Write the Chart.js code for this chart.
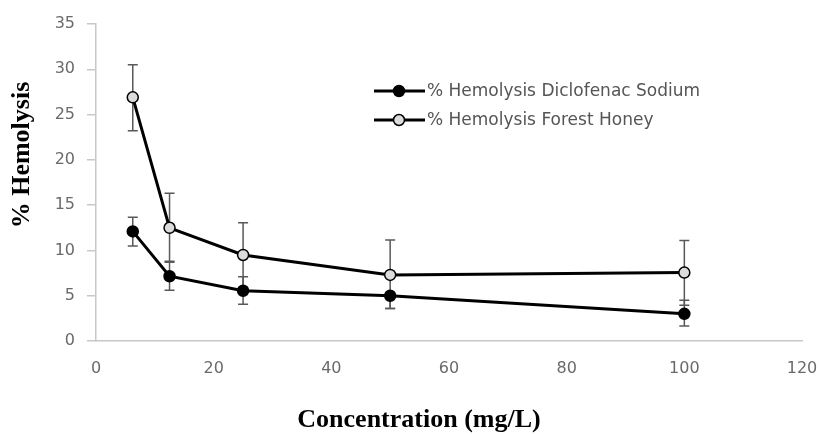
<!DOCTYPE html>
<html><head><meta charset="utf-8">
<script src="https://cdn.jsdelivr.net/npm/chart.js@4"></script>
<style>html,body{margin:0;padding:0;background:#fff}#wrap{width:819px;height:434px;position:relative}</style>
</head><body><div id="wrap"><canvas id="c" width="819" height="434"></canvas></div>
<script>
const concentrations = [6.25, 12.5, 25, 50, 100];
const diclofenac = [12.1, 7.15, 5.55, 5.0, 3.0];
const diclofenacErrUp = [1.55, 1.65, 1.55, 0, 1.5];
const diclofenacErrDown = [1.6, 1.55, 1.5, 1.4, 1.35];
const honey = [26.9, 12.5, 9.5, 7.3, 7.55];
const honeyErrUp = [3.6, 3.8, 3.55, 3.85, 3.55];
const honeyErrDown = [3.7, 3.8, 3.6, 3.7, 3.6];
const seriesNames = ['% Hemolysis Diclofenac Sodium', '% Hemolysis Forest Honey'];
const xTicksMin = 0, xTicksMax = 120, xTickStep = 20;
const yTicksMin = 0, yTicksMax = 35, yTickStep = 5;
const xTitle = 'Concentration (mg/L)';
const yTitle = '% Hemolysis';

const errorBars = [
  {up: diclofenacErrUp, down: diclofenacErrDown},
  {up: honeyErrUp, down: honeyErrDown}
];

const errorBarPlugin = {
  id: 'errorBars',
  beforeDatasetsDraw(chart) {
    const ctx = chart.ctx;
    const xs = chart.scales.x, ys = chart.scales.y;
    ctx.save();
    ctx.strokeStyle = '#595959';
    ctx.lineWidth = 1.5;
    chart.data.datasets.forEach((ds, di) => {
      const eb = errorBars[di];
      ds.data.forEach((p, i) => {
        const x = xs.getPixelForValue(p.x);
        const yc = ys.getPixelForValue(p.y);
        const segs = [];
        if (eb.up[i] > 0) segs.push(ys.getPixelForValue(p.y + eb.up[i]));
        if (eb.down[i] > 0) segs.push(ys.getPixelForValue(p.y - eb.down[i]));
        segs.forEach(ye => {
          ctx.beginPath();
          ctx.moveTo(x, yc); ctx.lineTo(x, ye);
          ctx.moveTo(x - 5, ye); ctx.lineTo(x + 5, ye);
          ctx.stroke();
        });
      });
    });
    ctx.restore();
  }
};

const annotationsPlugin = {
  id: 'annotations',
  afterDraw(chart) {
    const ctx = chart.ctx;
    ctx.save();
    ctx.fillStyle = '#000';
    ctx.font = 'bold 26px "Liberation Serif", "Times New Roman", serif';
    ctx.textAlign = 'center';
    ctx.textBaseline = 'middle';
    ctx.fillText(xTitle, 419, 420);
    ctx.translate(22, 155);
    ctx.rotate(-Math.PI / 2);
    ctx.fillText(yTitle, 0, 0);
    ctx.restore();
    ctx.save();
    const rows = [91, 120];
    chart.data.datasets.forEach((ds, di) => {
      const y = rows[di];
      ctx.strokeStyle = ds.borderColor;
      ctx.lineWidth = 3;
      ctx.beginPath();
      ctx.moveTo(374, y); ctx.lineTo(425, y);
      ctx.stroke();
      ctx.beginPath();
      ctx.arc(399, y, 5.5, 0, Math.PI * 2);
      ctx.fillStyle = ds.pointBackgroundColor;
      ctx.fill();
      ctx.lineWidth = 1.5;
      ctx.strokeStyle = ds.pointBorderColor;
      ctx.stroke();
      ctx.fillStyle = '#555555';
      ctx.font = '17px "DejaVu Sans", sans-serif';
      ctx.textAlign = 'left';
      ctx.textBaseline = 'middle';
      ctx.fillText(seriesNames[di], 427, y + 1);
    });
    ctx.restore();
  }
};

const mk = (arr) => concentrations.map((c, i) => ({x: c, y: arr[i]}));

new Chart(document.getElementById('c'), {
  type: 'line',
  data: {
    datasets: [
      {
        label: seriesNames[0], data: mk(diclofenac),
        borderColor: '#000', borderWidth: 3, tension: 0,
        pointRadius: 5.5, pointBackgroundColor: '#000', pointBorderColor: '#000', pointBorderWidth: 1.5
      },
      {
        label: seriesNames[1], data: mk(honey),
        borderColor: '#000', borderWidth: 3, tension: 0,
        pointRadius: 5.5, pointBackgroundColor: '#dcdcdc', pointBorderColor: '#000', pointBorderWidth: 1.5
      }
    ]
  },
  options: {
    responsive: false,
    animation: false,
    devicePixelRatio: 1,
    layout: {padding: {top: 24, right: 17, left: 0, bottom: 0}},
    plugins: {legend: {display: false}, tooltip: {enabled: false}},
    scales: {
      x: {
        type: 'linear', min: xTicksMin, max: xTicksMax,
        ticks: {stepSize: xTickStep, color: '#6a6a6a', font: {family: 'DejaVu Sans', size: 16}, padding: 18, maxRotation: 0},
        grid: {display: false, drawTicks: false},
        border: {display: true, color: '#c8c8c8', width: 1.5},
        afterFit(s) { s.height = 93; s.paddingRight = 0; s.paddingLeft = 0; }
      },
      y: {
        min: yTicksMin, max: yTicksMax,
        ticks: {stepSize: yTickStep, color: '#6a6a6a', font: {family: 'DejaVu Sans', size: 16}, padding: 12},
        grid: {drawOnChartArea: false, drawTicks: true, tickLength: 9, color: '#c8c8c8', lineWidth: 1.5},
        border: {display: true, color: '#c8c8c8', width: 1.5},
        afterFit(s) { s.width = 96; s.paddingTop = 0; s.paddingBottom = 0; }
      }
    }
  },
  plugins: [errorBarPlugin, annotationsPlugin]
});
</script>
</body></html>
